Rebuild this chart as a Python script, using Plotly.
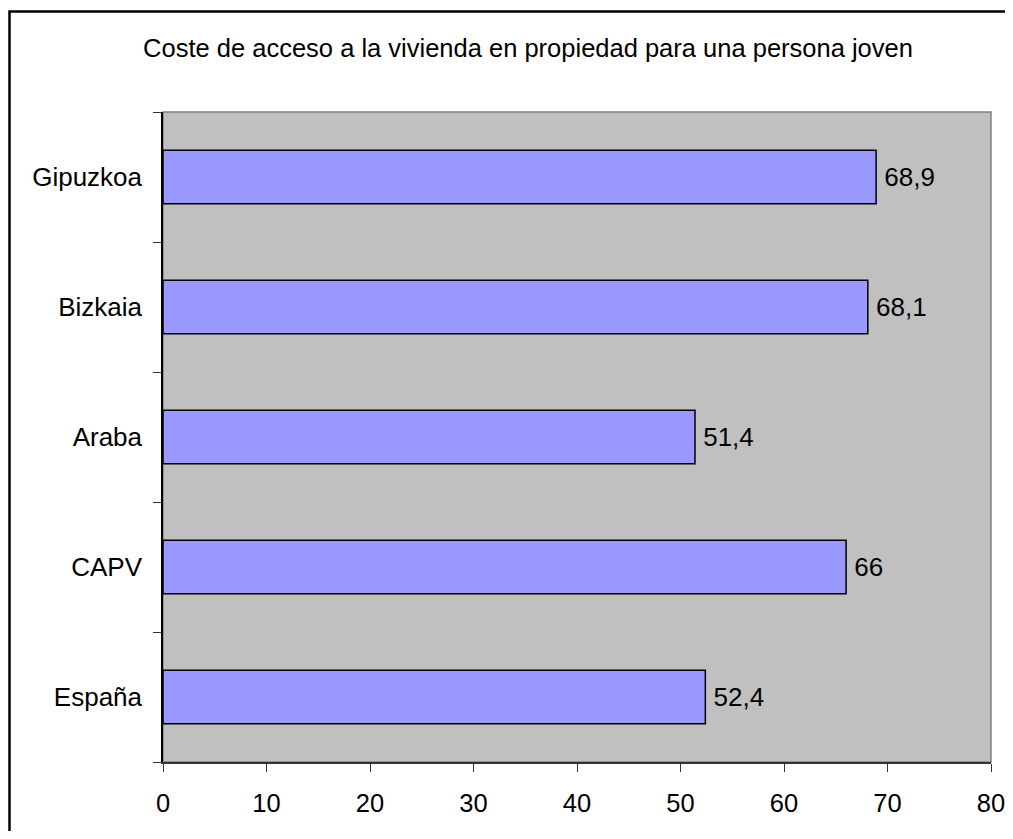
import plotly.graph_objects as go

categories = ["España", "CAPV", "Araba", "Bizkaia", "Gipuzkoa"]
values = [52.4, 66, 51.4, 68.1, 68.9]
labels = ["52,4", "66", "51,4", "68,1", "68,9"]
x_ticks = [0, 10, 20, 30, 40, 50, 60, 70, 80]
title_text = "Coste de acceso a la vivienda en propiedad para una persona joven"

FONT = "Liberation Sans, Arial, sans-serif"

fig = go.Figure(go.Bar(
    y=categories, x=values, orientation="h",
    marker=dict(color="#9999FF", line=dict(color="black", width=1.5)),
    text=labels, texttemplate="\u2009%{text}", textposition="outside", cliponaxis=False,
    textfont=dict(family=FONT, size=26, color="black"),
))

# page has an 8px body margin on every side; keep the figure inside the window
OFF = 8
W, H = 1013 - 2 * OFF, 839 - 2 * OFF
L, T = 163 - OFF, 112 - OFF
pw, ph = 991 - 163, 762 - 112
R = W - L - pw
B = H - T - ph

fig.update_layout(
    width=W, height=H,
    margin=dict(l=L, r=R, t=T, b=B, autoexpand=False),
    paper_bgcolor="white", plot_bgcolor="#C0C0C0",
    bargap=0.59, showlegend=False,
    font=dict(family=FONT, size=26, color="black"),
    title=dict(text=title_text, x=(528 - OFF) / W, xanchor="center",
               y=1 - (48 - OFF) / H, yanchor="middle",
               font=dict(family=FONT, size=25.5, color="black")),
)
fig.update_xaxes(range=[0, 80], tickvals=x_ticks, ticks="outside", ticklen=8,
                 tickcolor="#333333", showline=True, linecolor="#333333", linewidth=1.5,
                 showgrid=False, zeroline=False, ticklabelstandoff=10,
                 ticklabeloverflow="allow", automargin=False,
                 tickfont=dict(family=FONT, size=25.5, color="black"))
fig.update_yaxes(ticks="outside", ticklen=8, tickson="boundaries", tickcolor="#333333",
                 showline=True, linecolor="black", linewidth=1.5, showgrid=False,
                 ticklabelstandoff=14, automargin=False,
                 tickfont=dict(family=FONT, size=26, color="black"))

# plot area border (gray top/right)
fig.add_shape(type="rect", xref="paper", yref="paper", x0=0, x1=1, y0=0, y1=1,
              line=dict(color="#808080", width=1.5), layer="below")
# outer chart border (right/bottom edges fall outside the picture)
fig.add_shape(type="rect", xref="paper", yref="paper",
              x0=(9.5 - 163) / pw, x1=(1030 - 163) / pw,
              y0=(762 - 860) / ph, y1=(762 - 11.5) / ph,
              line=dict(color="black", width=2.5))

fig.write_html("out.html")
